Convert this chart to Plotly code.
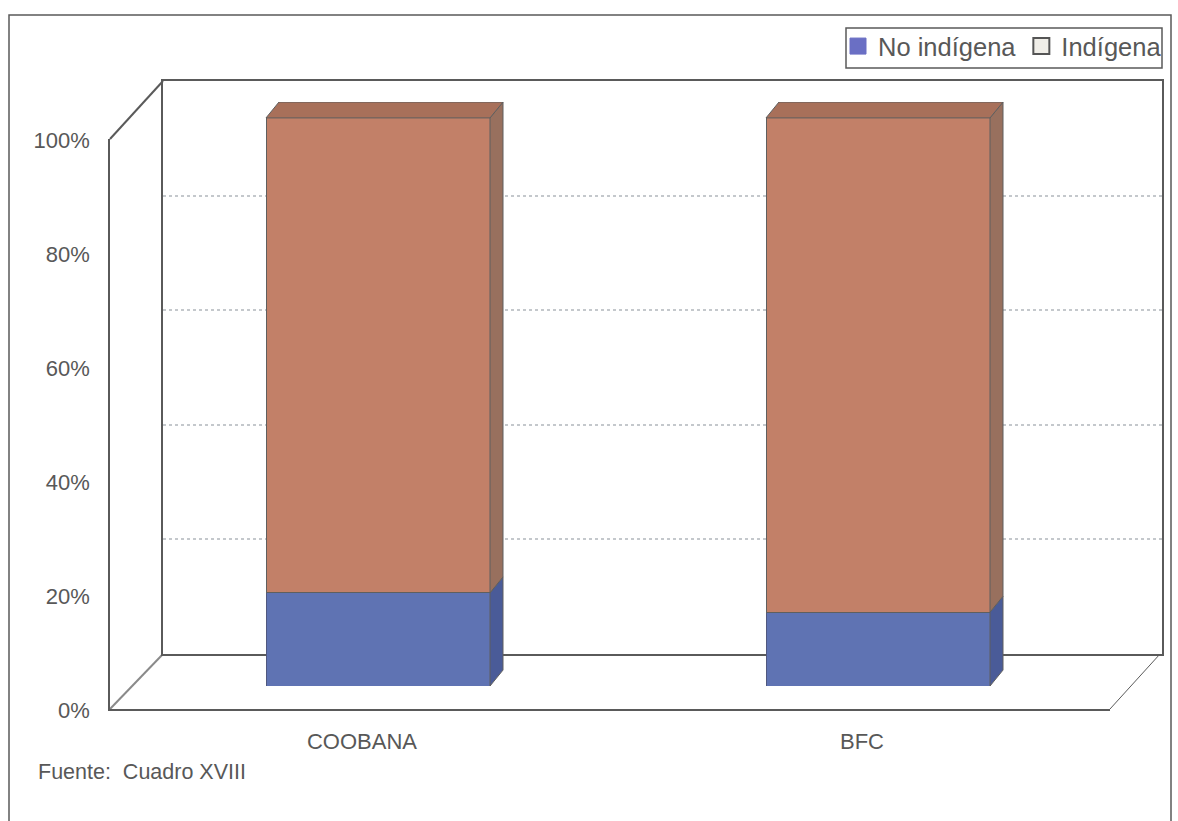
import plotly.graph_objects as go

categories = ["COOBANA", "BFC"]
no_indigena = [16.4, 13.0]
indigena = [83.6, 87.0]
y_ticks = [0, 20, 40, 60, 80, 100]
series_names = ["No indígena", "Indígena"]

W, H = 1178, 821
TXT = "#585858"
LINE = "#5a5a5a"
FONT = "Liberation Sans, Arial, sans-serif"
BLUE, BLUE_SIDE = "#5f73b3", "#4a5b98"
TERRA, TERRA_SIDE, TERRA_TOP = "#c28068", "#98705e", "#a8705a"
BAR_W = 0.448
DX, DY = 0.026, 2.8


def fx(p):
    return p / W


def fy(p):
    return 1 - p / H


fig = go.Figure()

# back wall subplot, carries the legend entries
fig.add_trace(go.Scatter(x=[None], y=[None], mode="markers", name=series_names[0],
                         marker=dict(symbol="square", size=16, color="#6a6fc4",
                                     line=dict(color="#6a6fc4", width=1)),
                         xaxis="x", yaxis="y"))
fig.add_trace(go.Scatter(x=[None], y=[None], mode="markers", name=series_names[1],
                         marker=dict(symbol="square", size=16, color="#f0eee8",
                                     line=dict(color="#555555", width=2)),
                         xaxis="x", yaxis="y"))
# front axis subplot
fig.add_trace(go.Scatter(x=[None], y=[None], showlegend=False, xaxis="x2", yaxis="y2"))


def poly(xs, ys, color):
    fig.add_trace(go.Scatter(x=xs, y=ys, mode="lines", fill="toself", fillcolor=color,
                             line=dict(color="#5f5f5f", width=1), showlegend=False,
                             hoverinfo="skip", xaxis="x3", yaxis="y3"))


for i, (a, b) in enumerate(zip(no_indigena, indigena)):
    r = i + BAR_W / 2
    l = i - BAR_W / 2
    t = a + b
    poly([r, r + DX, r + DX, r, r], [0, DY, a + DY, a, 0], BLUE_SIDE)
    poly([r, r + DX, r + DX, r, r], [a, a + DY, t + DY, t, a], TERRA_SIDE)
    poly([l, l + DX, r + DX, r, l], [t, t + DY, t + DY, t, t], TERRA_TOP)

xs = list(range(len(categories)))
fig.add_trace(go.Bar(x=xs, y=no_indigena, width=BAR_W, marker=dict(color=BLUE, line=dict(color="#50587f", width=1)),
                     name=series_names[0], showlegend=False, xaxis="x3", yaxis="y3"))
fig.add_trace(go.Bar(x=xs, y=indigena, width=BAR_W, marker=dict(color=TERRA, line=dict(color="#5f5f5f", width=1)),
                     name=series_names[1], showlegend=False, xaxis="x3", yaxis="y3"))

shapes = [
    dict(type="rect", xref="paper", yref="paper", x0=fx(9), x1=fx(1171), y0=fy(15), y1=fy(830),
         line=dict(color=LINE, width=1.5), layer="below"),
    dict(type="rect", xref="paper", yref="paper", x0=fx(846), x1=fx(1162), y0=fy(28), y1=fy(68),
         line=dict(color=LINE, width=1.5), fillcolor="white", layer="below"),
    dict(type="line", xref="paper", yref="paper", x0=fx(110), y0=fy(139), x1=fx(163), y1=fy(81),
         line=dict(color=LINE, width=2), layer="below"),
    dict(type="line", xref="paper", yref="paper", x0=fx(110), y0=fy(709), x1=fx(163), y1=fy(654),
         line=dict(color="#8a8a8a", width=2), layer="below"),
    dict(type="line", xref="paper", yref="paper", x0=fx(1110), y0=fy(709), x1=fx(1160), y1=fy(654),
         line=dict(color=LINE, width=1), layer="below"),
]

hidden = dict(showgrid=False, zeroline=False, showticklabels=False, ticks="")

fig.update_layout(
    width=W, height=H, margin=dict(l=0, r=0, t=0, b=0, autoexpand=False), autosize=False,
    paper_bgcolor="white", plot_bgcolor="rgba(0,0,0,0)", barmode="stack",
    font=dict(family=FONT, color=TXT),
    shapes=shapes,
    # back wall
    xaxis=dict(domain=[fx(163), fx(1162)], anchor="y", range=[0, 1], showline=True, mirror=True,
               linecolor=LINE, linewidth=1.5, **hidden),
    yaxis=dict(domain=[fy(654), fy(81)], anchor="x", range=[0, 100], showline=True, mirror=True,
               linecolor=LINE, linewidth=1.5, showgrid=True, gridcolor="#c4c8cc", griddash="dot",
               gridwidth=2, dtick=20, zeroline=False, showticklabels=False, ticks=""),
    # front axes
    xaxis2=dict(domain=[fx(110), fx(1110)], anchor="y2", range=[-0.5, 1.5], tickmode="array",
                tickvals=xs, ticktext=categories, showline=True, linecolor=LINE, linewidth=1.5,
                showgrid=False, zeroline=False, ticks="outside", ticklen=12, tickcolor="rgba(0,0,0,0)",
                ticklabelshift=2, tickfont=dict(size=22, color=TXT, family=FONT)),
    yaxis2=dict(domain=[fy(709), fy(139)], anchor="x2", range=[0, 100], tickmode="array",
                tickvals=y_ticks, ticktext=[f"{v}%" for v in y_ticks], showline=True, linecolor=LINE,
                linewidth=1.5, showgrid=False, zeroline=False, ticks="outside", ticklen=14,
                tickcolor="rgba(0,0,0,0)", ticklabelshift=1, tickfont=dict(size=22, color=TXT, family=FONT)),
    # bars
    xaxis3=dict(domain=[fx(128), fx(1128)], anchor="y3", range=[-0.5, 1.5], **hidden),
    yaxis3=dict(domain=[fy(686), fy(102)], anchor="x3", range=[0, 102.8], **hidden),
    legend=dict(orientation="h", x=fx(838), xanchor="left", y=fy(23), yanchor="top",
                bgcolor="rgba(0,0,0,0)", borderwidth=0, traceorder="normal",
                font=dict(size=25.5, color=TXT, family=FONT), itemwidth=30),
    annotations=[dict(text="Fuente:  Cuadro XVIII", xref="paper", yref="paper", x=fx(36), y=fy(772),
                      xanchor="left", yanchor="middle", showarrow=False,
                      font=dict(size=21.5, color=TXT, family=FONT))],
)

fig.write_html("out.html", config=dict(displayModeBar=False),
               post_script="document.body.style.margin='0';")
